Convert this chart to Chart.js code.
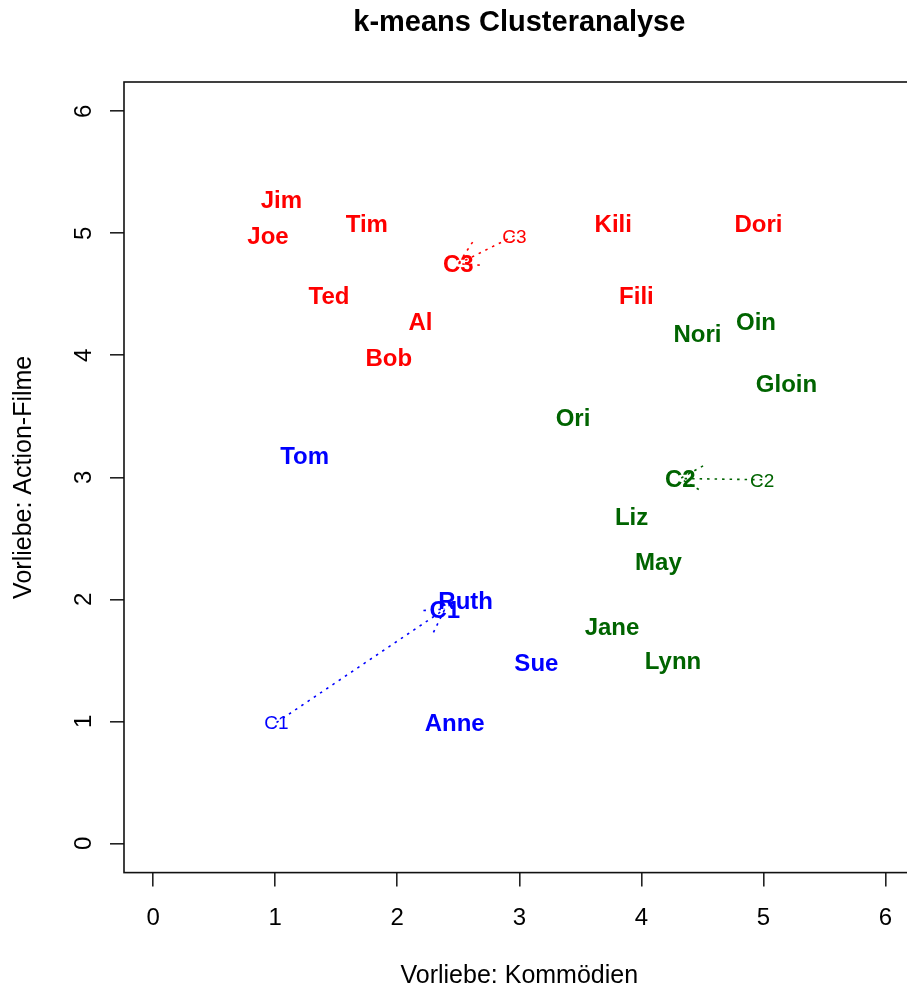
<!DOCTYPE html>
<html><head><meta charset="utf-8">
<script src="https://cdn.jsdelivr.net/npm/chart.js@4"></script>
<style>
html,body{margin:0;padding:0;overflow:hidden;background:#fff;width:907px;height:989px}
#wrap{position:absolute;left:0;top:0;width:940px;height:989px}
</style>
</head><body><div id="wrap"><canvas id="c" width="940" height="989"></canvas></div>
<script>
// ---- data ----
const names      = ['Jim','Joe','Tim','Ted','Al','Bob','Kili','Dori','Fili',
                    'Nori','Oin','Gloin','Ori','Liz','May','Jane','Lynn',
                    'Tom','Ruth','Sue','Anne'];
const kommoedien = [1.05,0.94,1.75,1.44,2.19,1.93,3.77,4.96,3.96,
                    4.46,4.94,5.19,3.44,3.92,4.14,3.76,4.26,
                    1.24,2.56,3.14,2.47];
const actionFilme= [5.28,4.98,5.08,4.49,4.28,3.98,5.08,5.08,4.49,
                    4.18,4.28,3.77,3.49,2.68,2.31,1.78,1.50,
                    3.18,1.99,1.48,0.99];
const cluster    = [3,3,3,3,3,3,3,3,3,
                    2,2,2,2,2,2,2,2,
                    1,1,1,1];
const centroidNames = ['C1','C2','C3'];
const startCentroidX = [1.01,4.99,2.96];
const startCentroidY = [0.99,2.98,4.98];
const finalCentroidX = [2.39,4.32,2.50];
const finalCentroidY = [1.92,2.99,4.75];
const clusterColors  = ['#0000FF','#006400','#FF0000'];
const tickValues     = [0,1,2,3,4,5,6];

Chart.defaults.font.family = '"Liberation Sans", Arial, Helvetica, sans-serif';

const datasets = [];
[1,2,3].forEach(k => {
  const pts = [];
  names.forEach((n,i) => { if (cluster[i] === k) pts.push({x: kommoedien[i], y: actionFilme[i], label: n}); });
  datasets.push({data: pts, labelSize: 24, labelBold: true, labelColor: clusterColors[k-1], pointRadius: 0});
});
datasets.push({
  data: centroidNames.map((n,i) => ({x: startCentroidX[i], y: startCentroidY[i], label: n})),
  labelSize: 19, labelBold: false, labelColors: clusterColors, pointRadius: 0
});
datasets.push({
  data: centroidNames.map((n,i) => ({x: finalCentroidX[i], y: finalCentroidY[i], label: n})),
  labelSize: 24, labelBold: true, labelColors: clusterColors, pointRadius: 0
});

const boxPlugin = {
  id: 'box',
  afterDraw(chart) {
    const {ctx, chartArea: a} = chart;
    ctx.save();
    ctx.strokeStyle = '#111';
    ctx.lineWidth = 1.6;
    ctx.strokeRect(a.left, a.top, a.right - a.left, a.bottom - a.top);
    ctx.restore();
  }
};

const labelPlugin = {
  id: 'labels',
  afterDatasetsDraw(chart) {
    const ctx = chart.ctx;
    const sx = chart.scales.x, sy = chart.scales.y;
    ctx.save();
    ctx.lineWidth = 1.6;
    ctx.setLineDash([2.5, 5]);
    centroidNames.forEach((n,i) => {
      const x0 = sx.getPixelForValue(startCentroidX[i]), y0 = sy.getPixelForValue(startCentroidY[i]);
      const x1 = sx.getPixelForValue(finalCentroidX[i]), y1 = sy.getPixelForValue(finalCentroidY[i]);
      ctx.strokeStyle = clusterColors[i];
      ctx.beginPath(); ctx.moveTo(x0,y0); ctx.lineTo(x1,y1); ctx.stroke();
      const ang = Math.atan2(y0 - y1, x0 - x1);
      const L = 26, h = Math.PI/6;
      ctx.beginPath();
      ctx.moveTo(x1 + L*Math.cos(ang - h), y1 + L*Math.sin(ang - h));
      ctx.lineTo(x1, y1);
      ctx.lineTo(x1 + L*Math.cos(ang + h), y1 + L*Math.sin(ang + h));
      ctx.stroke();
    });
    ctx.restore();
    chart.data.datasets.forEach((ds, di) => {
      const meta = chart.getDatasetMeta(di);
      ctx.save();
      ctx.font = (ds.labelBold ? 'bold ' : '') + ds.labelSize + 'px "Liberation Sans", Arial, sans-serif';
      ctx.textAlign = 'center';
      ctx.textBaseline = 'alphabetic';
      const off = 0.36 * ds.labelSize;
      meta.data.forEach((el, j) => {
        ctx.fillStyle = ds.labelColors ? ds.labelColors[j] : ds.labelColor;
        ctx.fillText(ds.data[j].label, el.x, el.y + off);
      });
      ctx.restore();
    });
  }
};

const gridOpts = {drawOnChartArea: false, drawTicks: true, tickLength: 14, color: '#222', lineWidth: 1.6};

new Chart(document.getElementById('c'), {
  type: 'scatter',
  data: {datasets},
  options: {
    responsive: false, animation: false, devicePixelRatio: 1,
    layout: {padding: {left: 0, right: 25.4, top: 0, bottom: 0}},
    plugins: {
      legend: {display: false},
      tooltip: {enabled: false},
      title: {display: true, text: 'k-means Clusteranalyse', fullSize: false, color: '#000',
              font: {size: 29, weight: 'bold'}, padding: {top: 5.8, bottom: 41.4}}
    },
    scales: {
      x: {
        type: 'linear', min: -0.24, max: 6.24,
        afterBuildTicks: s => { s.ticks = tickValues.map(v => ({value: v})); },
        afterFit: s => { s.height = 116.4; },
        grid: gridOpts, border: {display: false},
        ticks: {color: '#000', font: {size: 24}, padding: 17.5, maxRotation: 0, autoSkip: false},
        title: {display: true, text: 'Vorliebe: Kommödien', color: '#000', font: {size: 25, lineHeight: 1}, padding: {top: 0, bottom: 0}}
      },
      y: {
        type: 'linear', min: -0.24, max: 6.24,
        afterBuildTicks: s => { s.ticks = tickValues.map(v => ({value: v})); },
        afterFit: s => { s.width = 124; },
        grid: gridOpts, border: {display: false},
        ticks: {color: '#000', font: {size: 24}, padding: 19, minRotation: 90, maxRotation: 90, crossAlign: 'center', autoSkip: false},
        title: {display: true, text: 'Vorliebe: Action-Filme', color: '#000', font: {size: 25, lineHeight: 1}, padding: {top: 11.5, bottom: 0}}
      }
    }
  },
  plugins: [labelPlugin, boxPlugin]
});
</script>
</body></html>
